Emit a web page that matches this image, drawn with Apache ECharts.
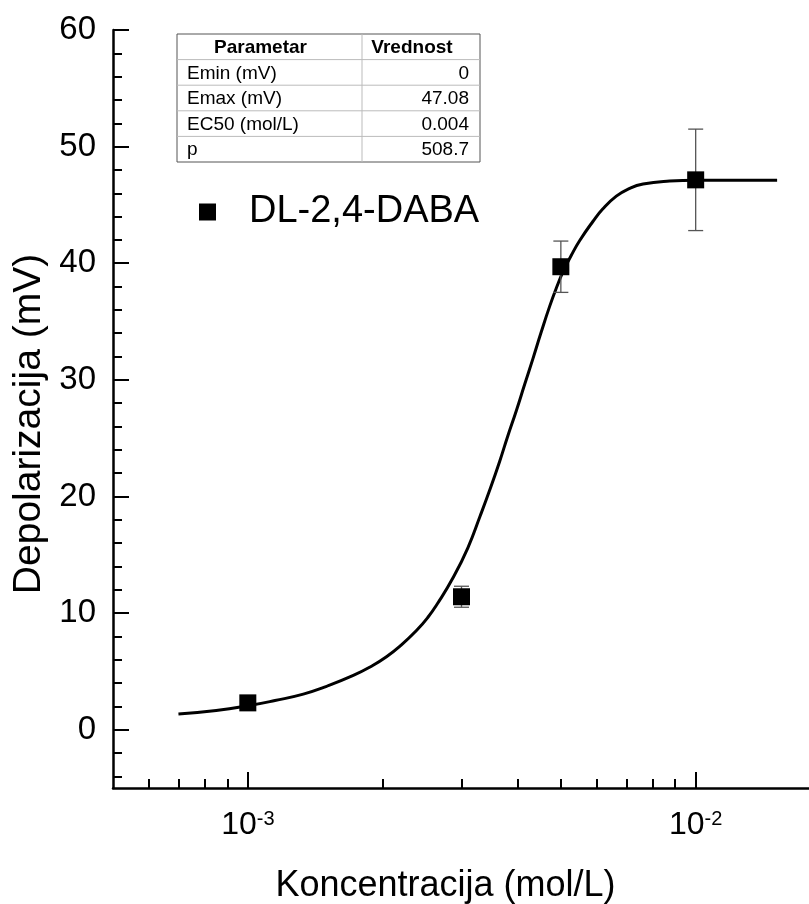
<!DOCTYPE html>
<html>
<head>
<meta charset="utf-8">
<script src="https://cdn.jsdelivr.net/npm/echarts@6/dist/echarts.min.js"></script>
<style>
html,body{margin:0;padding:0;background:#fff;}
#chart{width:809px;height:904px;}
</style>
</head>
<body>
<div id="chart"></div>
<script>
// ---- data ----
const seriesName = 'DL-2,4-DABA';
const concentrations = [0.001, 0.003, 0.005, 0.01];
const depolarization = [2.3, 11.4, 39.7, 47.15];
const errors = [0.3, 0.9, 2.2, 4.35];

const fitX = [0.0007, 0.00085, 0.001, 0.00115, 0.00133, 0.0015, 0.00172, 0.00188, 0.00204, 0.0022, 0.00238, 0.00252, 0.00265, 0.00287, 0.0031, 0.0033, 0.00348, 0.00365, 0.0038, 0.00398, 0.00415, 0.00433, 0.00452, 0.00472, 0.0049, 0.00506, 0.00528, 0.00551, 0.0059, 0.0062, 0.00665, 0.0071, 0.00763, 0.00875, 0.01, 0.0152];
const fitY = [1.35, 1.65, 2.05, 2.5, 3.05, 3.72, 4.65, 5.4, 6.25, 7.25, 8.5, 9.6, 10.8, 13.0, 15.6, 18.3, 20.7, 23.0, 25.1, 27.4, 29.6, 31.8, 34.1, 36.3, 38.0, 39.3, 40.7, 41.95, 43.6, 44.65, 45.75, 46.4, 46.8, 47.05, 47.12, 47.12];

const xMajorTicks = [0.001, 0.01];
const xMinorTicks = [0.0006, 0.0007, 0.0008, 0.0009, 0.002, 0.003, 0.004, 0.005, 0.006, 0.007, 0.008, 0.009];
const yMajorTicks = [0, 10, 20, 30, 40, 50, 60];
const yMinorTicks = [-4, -2, 2, 4, 6, 8, 12, 14, 16, 18, 22, 24, 26, 28, 32, 34, 36, 38, 42, 44, 46, 48, 52, 54, 56, 58];

const tableHeader = ['Parametar', 'Vrednost'];
const tableParams = ['Emin (mV)', 'Emax (mV)', 'EC50 (mol/L)', 'p'];
const tableValues = ['0', '47.08', '0.004', '508.7'];

const xTitle = 'Koncentracija (mol/L)';
const yTitle = 'Depolarizacija (mV)';

// ---- chart ----
const FONT = '"Liberation Sans", Arial, sans-serif';
const chart = echarts.init(document.getElementById('chart'), null, {renderer: 'canvas'});

const scatterData = concentrations.map((c, i) => [c, depolarization[i]]);
const errData = concentrations.map((c, i) => [c, depolarization[i], errors[i]]);
const fitData = fitX.map((x, i) => [x, fitY[i]]);

// table graphic
const tX = 177, tY = 34, tW = 303, rowH = 25.6, col1W = 185;
const tableEls = [];
const nRows = tableParams.length + 1;
tableEls.push({type: 'rect', shape: {x: tX, y: tY, width: tW, height: rowH * nRows},
  style: {fill: '#fff', stroke: '#555', lineWidth: 1}});
for (let r = 1; r < nRows; r++) {
  tableEls.push({type: 'line', shape: {x1: tX, y1: tY + r * rowH, x2: tX + tW, y2: tY + r * rowH},
    style: {stroke: '#bbb', lineWidth: 1}});
}
tableEls.push({type: 'line', shape: {x1: tX + col1W, y1: tY, x2: tX + col1W, y2: tY + rowH * nRows},
  style: {stroke: '#bbb', lineWidth: 1}});
tableEls.push({type: 'text', x: tX + col1W / 2 - 9, y: tY + rowH / 2 + 1,
  style: {text: tableHeader[0], font: 'bold 19px ' + FONT, fill: '#000', align: 'center', verticalAlign: 'middle'}});
tableEls.push({type: 'text', x: tX + col1W + (tW - col1W) / 2 - 9, y: tY + rowH / 2 + 1,
  style: {text: tableHeader[1], font: 'bold 19px ' + FONT, fill: '#000', align: 'center', verticalAlign: 'middle'}});
tableParams.forEach((p, i) => {
  tableEls.push({type: 'text', x: tX + 10, y: tY + rowH * (i + 1.5) + 1,
    style: {text: p, font: '19px ' + FONT, fill: '#000', align: 'left', verticalAlign: 'middle'}});
  tableEls.push({type: 'text', x: tX + tW - 11, y: tY + rowH * (i + 1.5) + 1,
    style: {text: tableValues[i], font: '19px ' + FONT, fill: '#000', align: 'right', verticalAlign: 'middle'}});
});

const grid = {left: 113, top: 30, width: 697, height: 758, containLabel: false, outerBoundsMode: 'none'};
const axisLineStyle = {color: '#000', width: 2.5};

const option = {
  backgroundColor: '#fff',
  animation: false,
  grid: grid,
  legend: {
    data: [seriesName],
    left: 194, top: 188,
    itemWidth: 17, itemHeight: 17,
    icon: 'rect',
    itemStyle: {color: '#000', opacity: 1},
    textStyle: {fontSize: 38, fontFamily: FONT, color: '#000', padding: [0, 0, 0, 28]}
  },
  xAxis: [{
    type: 'log', logBase: 10, min: 0.0005, max: 0.018,
    name: xTitle, nameLocation: 'middle', nameGap: 80,
    nameTextStyle: {fontSize: 36, fontFamily: FONT, color: '#000', padding: [0, 32, 0, 0]},
    axisLine: {show: true, onZero: false, lineStyle: axisLineStyle},
    axisTick: {show: true, inside: true, length: 16, lineStyle: {color: '#000', width: 2}, customValues: xMajorTicks},
    axisLabel: {
      show: true, margin: 21, customValues: xMajorTicks,
      formatter: function (v) {
        const e = Math.round(Math.log10(v));
        return '{b|10}{s|' + e + '}';
      },
      rich: {
        b: {fontSize: 32, fontFamily: FONT, color: '#000'},
        s: {fontSize: 20, fontFamily: FONT, color: '#000', verticalAlign: 'top', lineHeight: 18}
      }
    },
    splitLine: {show: false}, minorTick: {show: false}
  }, {
    type: 'log', logBase: 10, min: 0.0005, max: 0.018, position: 'bottom',
    axisLine: {show: false, onZero: false},
    axisTick: {show: true, inside: true, length: 9, lineStyle: {color: '#000', width: 2}, customValues: xMinorTicks},
    axisLabel: {show: false},
    splitLine: {show: false}
  }],
  yAxis: [{
    type: 'value', min: -5, max: 60,
    name: yTitle, nameLocation: 'middle', nameGap: 54, nameRotate: 90,
    nameTextStyle: {fontSize: 39, fontFamily: FONT, color: '#000', padding: [0, 30, 0, 0]},
    axisLine: {show: true, onZero: false, lineStyle: axisLineStyle},
    axisTick: {show: true, inside: true, length: 16, lineStyle: {color: '#000', width: 2}, customValues: yMajorTicks},
    axisLabel: {show: true, margin: 17, fontSize: 33, fontFamily: FONT, color: '#000', customValues: yMajorTicks},
    splitLine: {show: false}
  }, {
    type: 'value', min: -5, max: 60, position: 'left',
    axisLine: {show: false, onZero: false},
    axisTick: {show: true, inside: true, length: 9, lineStyle: {color: '#000', width: 2}, customValues: yMinorTicks},
    axisLabel: {show: false},
    splitLine: {show: false}
  }],
  graphic: tableEls,
  series: [{
    type: 'line', data: fitData, xAxisIndex: 0, yAxisIndex: 0,
    smooth: 0.5, showSymbol: false, symbol: 'none',
    lineStyle: {color: '#000', width: 3}, z: 2, silent: true
  }, {
    type: 'custom', data: errData, xAxisIndex: 0, yAxisIndex: 0, z: 3, silent: true,
    renderItem: function (params, api) {
      const x = api.value(0), y = api.value(1), e = api.value(2);
      const top = api.coord([x, y + e]);
      const bot = api.coord([x, y - e]);
      const cw = 7.5;
      const st = {stroke: '#555', lineWidth: 1.3};
      return {type: 'group', children: [
        {type: 'line', shape: {x1: top[0], y1: top[1], x2: bot[0], y2: bot[1]}, style: st},
        {type: 'line', shape: {x1: top[0] - cw, y1: top[1], x2: top[0] + cw, y2: top[1]}, style: st},
        {type: 'line', shape: {x1: bot[0] - cw, y1: bot[1], x2: bot[0] + cw, y2: bot[1]}, style: st}
      ]};
    }
  }, {
    name: seriesName, type: 'scatter', data: scatterData, xAxisIndex: 0, yAxisIndex: 0,
    symbol: 'rect', symbolSize: 17, itemStyle: {color: '#000', opacity: 1}, z: 4
  }]
};
chart.setOption(option);
</script>
</body>
</html>
